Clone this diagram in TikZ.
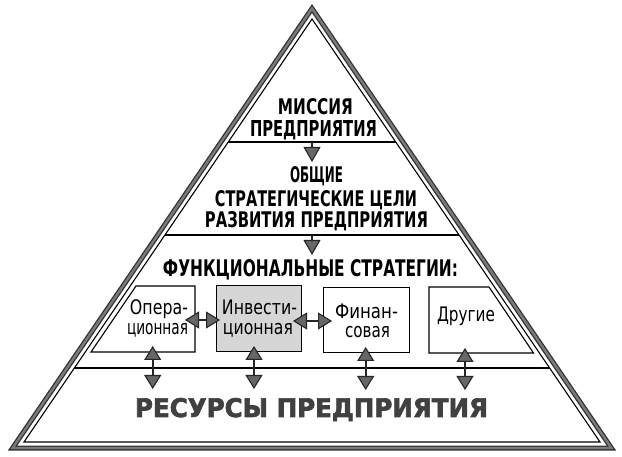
\documentclass[tikz,border=0pt]{standalone}
\usepackage{fontspec}
\setmainfont{Liberation Sans}
\newfontfamily\hdfont[UprightFont={* Bold}]{DejaVu Sans}
\newfontfamily\bxfont{DejaVu Sans}
\newfontfamily\heavyfont[UprightFont={* Bold},FakeBold=2.5]{DejaVu Sans}
\usetikzlibrary{arrows.meta}
\begin{document}
\begin{tikzpicture}[x=1pt,y=-1pt,
  band/.style={line width=5pt,draw=black!80,line join=miter},
  bandin/.style={line width=2.4pt,draw=black!52,line join=miter},
  tri/.style={line width=1.1pt,line join=miter},
  sep/.style={line width=1.1pt},
  septhick/.style={line width=2pt},
  boxst/.style={draw,line width=1.1pt},
  arr/.style={line width=2pt,draw=black!85,-{Triangle[length=15pt,width=17pt,fill=black!60,line width=1.1pt]}},
  darr/.style={line width=2pt,draw=black!85,{Triangle[length=14pt,width=17pt,fill=black!60,line width=1.1pt]}-{Triangle[length=14pt,width=17pt,fill=black!60,line width=1.1pt]}},
  hd/.style={inner sep=0pt,anchor=base},
]
\useasboundingbox (0,0) rectangle (622,457);
\fill[white] (0,0) rectangle (622,457);

% pyramid outline
\coordinate (OA) at (312,8.5);
\coordinate (OL) at (12.6,448);
\coordinate (OR) at (611.4,448);
\draw[band] (OA)--(OL)--(OR)--cycle;
\draw[bandin] (OA)--(OL)--(OR)--cycle;
\coordinate (IA) at (312,19);
\coordinate (IL) at (24,442);
\coordinate (IR) at (600,442);
\draw[tri] (IA)--(IL)--(IR)--cycle;

% separators
\coordinate (s1l) at (228.2,142);
\coordinate (s1r) at (395.8,142);
\coordinate (s2l) at (164.9,235);
\coordinate (s2r) at (459.1,235);
\coordinate (s3l) at (74.3,368);
\coordinate (s3r) at (549.7,368);
\draw[sep] (s1l)--(s1r);
\draw[sep] (s2l)--(s2r);
\draw[septhick] (s3l)--(s3r);

% headers
\node[hd] (mis1) at (315.5,115) {\resizebox{75pt}{16pt}{\hdfont МИССИЯ}};
\node[hd] (mis2) at (313.5,137) {\resizebox{127pt}{16pt}{\hdfont ПРЕДПРИЯТИЯ}};
\node[hd] (gol1) at (316.5,183) {\resizebox{53pt}{16pt}{\hdfont ОБЩИЕ}};
\node[hd] (gol2) at (316,207) {\resizebox{202pt}{16pt}{\hdfont СТРАТЕГИЧЕСКИЕ ЦЕЛИ}};
\node[hd] (gol3) at (316.5,228) {\resizebox{223pt}{16pt}{\hdfont РАЗВИТИЯ ПРЕДПРИЯТИЯ}};
\node[hd] (fun) at (310.5,277) {\resizebox{295pt}{17pt}{\hdfont ФУНКЦИОНАЛЬНЫЕ СТРАТЕГИИ:}};
\node[hd,text=black!75] (res) at (311.5,417) {\resizebox{353pt}{19pt}{\heavyfont РЕСУРСЫ ПРЕДПРИЯТИЯ}};

% down arrows
\coordinate (d1s) at (312,142);
\coordinate (d1e) at (312,162);
\coordinate (d2s) at (312,235);
\coordinate (d2e) at (312,255);
\draw[arr] (d1s)--(d1e);
\draw[arr] (d2s)--(d2e);

% boxes
\draw[boxst] (136,286) coordinate (b1tl) -- (195,286) coordinate (b1tr) -- (195,352) coordinate (b1br) -- (91,352) coordinate (b1bl) -- cycle;
\node[boxst,fill=black!16,inner sep=0pt,minimum width=85pt,minimum height=66pt,anchor=north west] (b2) at (216,285) {};
\node[boxst,inner sep=0pt,minimum width=86pt,minimum height=65pt,anchor=north west] (b3) at (323,287) {};
\draw[boxst] (429,287) coordinate (b4tl) -- (489,287) coordinate (b4tr) -- (533.5,353) coordinate (b4br) -- (429,353) coordinate (b4bl) -- cycle;

% box texts
\node[hd] (op1) at (159,315) {\resizebox{58pt}{\height}{\fontsize{20}{20}\bxfont Опера-}};
\node[hd] (op2) at (157.5,335) {\resizebox{61pt}{\height}{\fontsize{20}{20}\bxfont ционная}};
\node[hd] (in1) at (259.5,315) {\resizebox{75pt}{\height}{\fontsize{20}{20}\bxfont Инвести-}};
\node[hd] (in2) at (258,335) {\resizebox{70pt}{\height}{\fontsize{20}{20}\bxfont ционная}};
\node[hd] (fi1) at (366.5,319) {\resizebox{63pt}{\height}{\fontsize{20}{20}\bxfont Финан-}};
\node[hd] (fi2) at (367.5,338) {\resizebox{45pt}{\height}{\fontsize{20}{20}\bxfont совая}};
\node[hd] (dr) at (466,322) {\resizebox{58pt}{\height}{\fontsize{20}{20}\bxfont Другие}};

% horizontal double arrows
\coordinate (h1a) at (185,320);
\coordinate (h1b) at (220,320);
\coordinate (h2a) at (293,321);
\coordinate (h2b) at (332,321);
\draw[darr] (h1a)--(h1b);
\draw[darr] (h2a)--(h2b);

% vertical double arrows
\coordinate (v1a) at (152.7,346);
\coordinate (v1b) at (152.7,389);
\coordinate (v2a) at (254,346);
\coordinate (v2b) at (254,389);
\coordinate (v3a) at (365.7,347);
\coordinate (v3b) at (365.7,390);
\coordinate (v4a) at (465,348);
\coordinate (v4b) at (465,390);
\draw[darr] (v1a)--(v1b);
\draw[darr] (v2a)--(v2b);
\draw[darr] (v3a)--(v3b);
\draw[darr] (v4a)--(v4b);
\end{tikzpicture}
\end{document}
